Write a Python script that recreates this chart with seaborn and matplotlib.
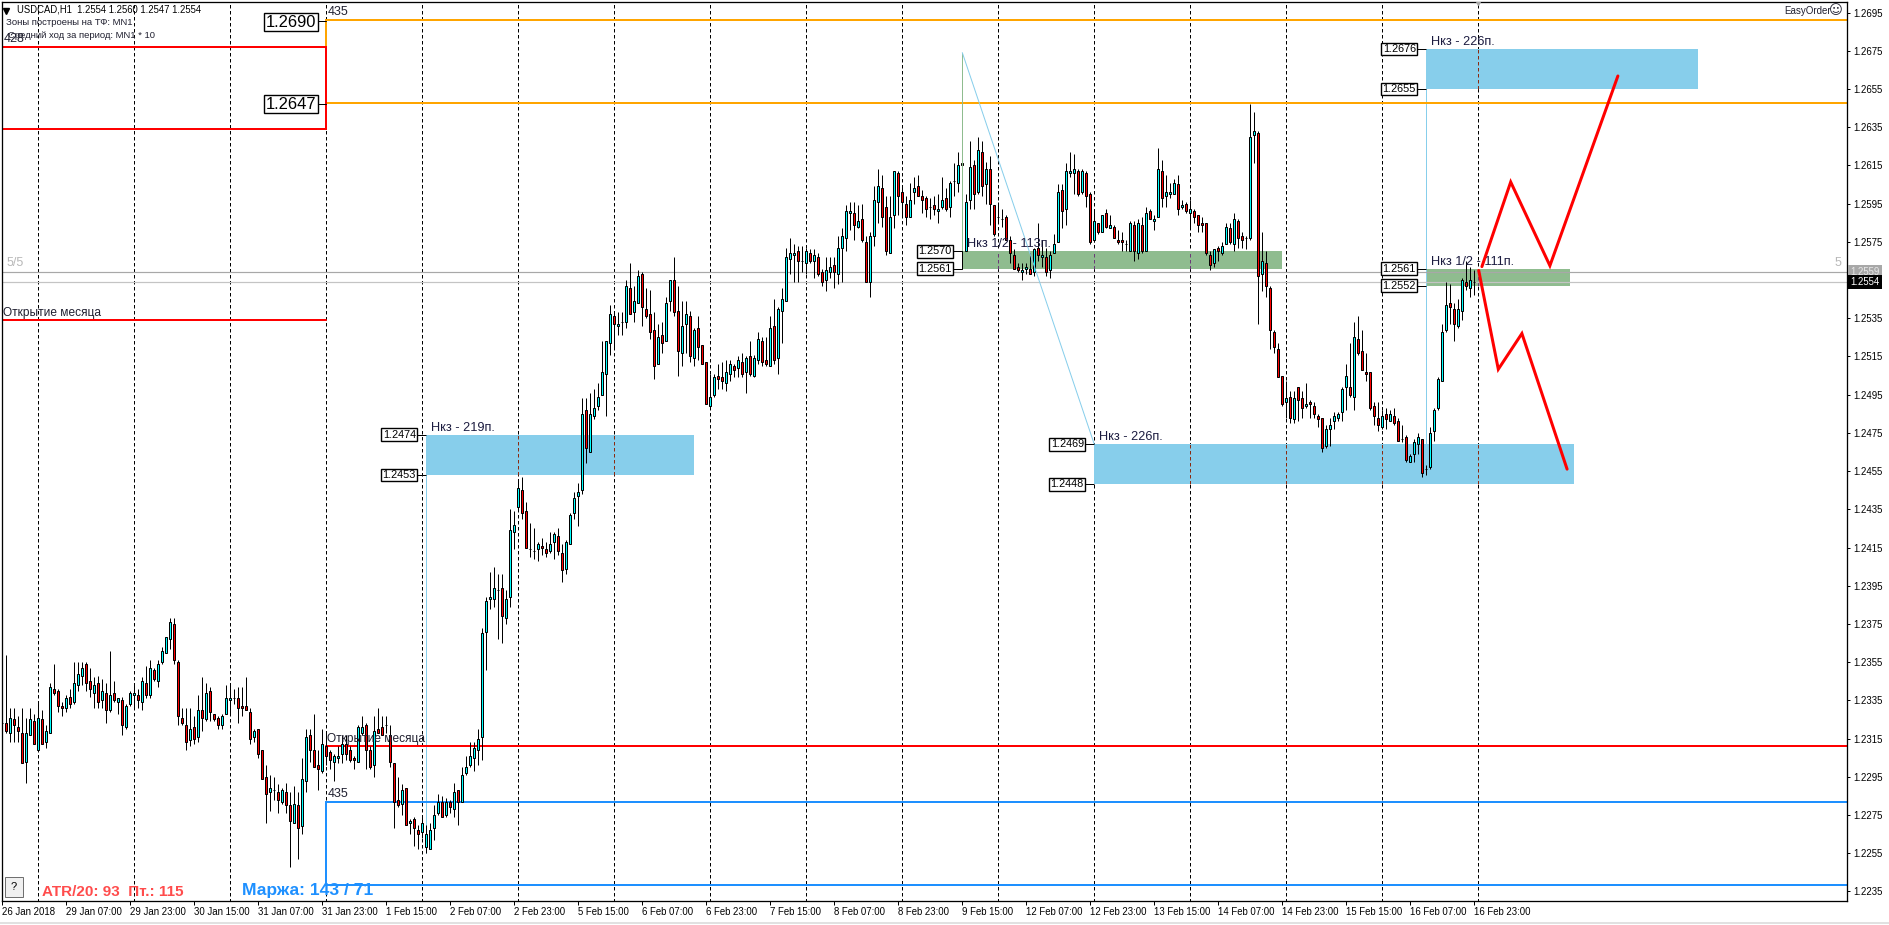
import matplotlib
matplotlib.use('Agg')
import matplotlib.pyplot as plt
import numpy as np
import pandas as pd
import seaborn as sns
from matplotlib.lines import Line2D
from matplotlib.patches import Rectangle

opens = [
    1.2323, 1.2323, 1.2318, 1.2325, 1.2321, 1.2318, 1.2303, 1.2317, 1.2324, 1.2309,
    1.2325, 1.2313, 1.2318, 1.2341, 1.2340, 1.2332, 1.2331, 1.2337, 1.2334, 1.2343,
    1.2348, 1.2354, 1.2345, 1.2339, 1.2344, 1.2335, 1.2339, 1.2330, 1.2339, 1.2334,
    1.2335, 1.2321, 1.2333, 1.2338, 1.2338, 1.2334, 1.2344, 1.2338, 1.2351, 1.2345,
    1.2355, 1.2360, 1.2367, 1.2375, 1.2355, 1.2326, 1.2322, 1.2314, 1.2321, 1.2316,
    1.2330, 1.2325, 1.2340, 1.2328, 1.2326, 1.2322, 1.2328, 1.2335, 1.2336, 1.2336,
    1.2332, 1.2332, 1.2329, 1.2316, 1.2320, 1.2309, 1.2295, 1.2287, 1.2288, 1.2287,
    1.2282, 1.2287, 1.2280, 1.2271, 1.2280, 1.2269, 1.2293, 1.2317, 1.2309, 1.2301,
    1.2298, 1.2311, 1.2308, 1.2303, 1.2305, 1.2307, 1.2312, 1.2309, 1.2305, 1.2303,
    1.2318, 1.2322, 1.2309, 1.2301, 1.2320, 1.2321, 1.2322, 1.2317, 1.2302, 1.2283,
    1.2281, 1.2289, 1.2271, 1.2273, 1.2267, 1.2266, 1.2258, 1.2257, 1.2268, 1.2276,
    1.2282, 1.2275, 1.2282, 1.2278, 1.2288, 1.2282, 1.2297, 1.2301, 1.2305, 1.2309,
    1.2316, 1.2371, 1.2388, 1.2388, 1.2393, 1.2394, 1.2378, 1.2389, 1.2423, 1.2436,
    1.2445, 1.2434, 1.2414, 1.2413, 1.2414, 1.2416, 1.2414, 1.2413, 1.2418, 1.2421,
    1.2412, 1.2404, 1.2417, 1.2433, 1.2442, 1.2445, 1.2487, 1.2465, 1.2484, 1.2489,
    1.2495, 1.2506, 1.2522, 1.2536, 1.2531, 1.2533, 1.2533, 1.2551, 1.2538, 1.2543,
    1.2558, 1.2540, 1.2537, 1.2529, 1.2511, 1.2526, 1.2523, 1.2544, 1.2555, 1.2539,
    1.2517, 1.2532, 1.2536, 1.2514, 1.2530, 1.2521, 1.2512, 1.2489, 1.2495, 1.2505,
    1.2504, 1.2501, 1.2506, 1.2510, 1.2509, 1.2512, 1.2507, 1.2515, 1.2505, 1.2513,
    1.2523, 1.2513, 1.2510, 1.2531, 1.2514, 1.2539, 1.2544, 1.2566, 1.2568, 1.2570,
    1.2565, 1.2564, 1.2569, 1.2565, 1.2567, 1.2559, 1.2555, 1.2559, 1.2563, 1.2558,
    1.2572, 1.2577, 1.2590, 1.2590, 1.2583, 1.2587, 1.2575, 1.2554, 1.2578, 1.2596,
    1.2603, 1.2593, 1.2569, 1.2589, 1.2611, 1.2601, 1.2595, 1.2588, 1.2601, 1.2604,
    1.2599, 1.2598, 1.2593, 1.2594, 1.2591, 1.2593, 1.2598, 1.2593, 1.2607, 1.2606,
    1.2616, 1.2570, 1.2597, 1.2615, 1.2601, 1.2622, 1.2605, 1.2613, 1.2594, 1.2588,
    1.2587, 1.2588, 1.2576, 1.2568, 1.2562, 1.2559, 1.2561, 1.2561, 1.2559, 1.2572,
    1.2567, 1.2567, 1.2560, 1.2569, 1.2575, 1.2602, 1.2592, 1.2611, 1.2611, 1.2612,
    1.2601, 1.2611, 1.2600, 1.2576, 1.2585, 1.2580, 1.2590, 1.2582, 1.2583, 1.2576,
    1.2576, 1.2574, 1.2570, 1.2584, 1.2569, 1.2584, 1.2570, 1.2591, 1.2586, 1.2588,
    1.2612, 1.2599, 1.2600, 1.2600, 1.2605, 1.2593, 1.2595, 1.2590, 1.2591, 1.2589,
    1.2585, 1.2585, 1.2568, 1.2564, 1.2572, 1.2569, 1.2574, 1.2582, 1.2574, 1.2586,
    1.2578, 1.2577, 1.2577, 1.2631, 1.2632, 1.2558, 1.2564, 1.2551, 1.2528, 1.2519,
    1.2505, 1.2491, 1.2494, 1.2482, 1.2499, 1.2493, 1.2489, 1.2491, 1.2489, 1.2484,
    1.2483, 1.2468, 1.2477, 1.2481, 1.2483, 1.2486, 1.2499, 1.2499, 1.2494, 1.2524,
    1.2518, 1.2507, 1.2507, 1.2489, 1.2483, 1.2478, 1.2485, 1.2481, 1.2484, 1.2481,
    1.2472, 1.2473, 1.2460, 1.2464, 1.2469, 1.2472, 1.2456, 1.2457, 1.2476, 1.2488,
    1.2502, 1.2529, 1.2543, 1.2540, 1.2531, 1.2539, 1.2554, 1.2551, 1.2554,
]
highs = [
    1.2337, 1.2359, 1.2331, 1.2331, 1.2327, 1.2331, 1.2326, 1.2331, 1.2328, 1.2334,
    1.2330, 1.2322, 1.2344, 1.2354, 1.2341, 1.2334, 1.2338, 1.2341, 1.2355, 1.2355,
    1.2355, 1.2355, 1.2352, 1.2347, 1.2348, 1.2346, 1.2344, 1.2361, 1.2345, 1.2336,
    1.2337, 1.2333, 1.2340, 1.2343, 1.2341, 1.2347, 1.2353, 1.2356, 1.2352, 1.2356,
    1.2363, 1.2368, 1.2378, 1.2378, 1.2356, 1.2331, 1.2331, 1.2331, 1.2327, 1.2338,
    1.2347, 1.2344, 1.2342, 1.2328, 1.2327, 1.2328, 1.2343, 1.2343, 1.2341, 1.2342,
    1.2342, 1.2347, 1.2331, 1.2320, 1.2320, 1.2309, 1.2301, 1.2296, 1.2295, 1.2291,
    1.2289, 1.2292, 1.2287, 1.2290, 1.2287, 1.2305, 1.2320, 1.2320, 1.2328, 1.2309,
    1.2320, 1.2319, 1.2309, 1.2307, 1.2311, 1.2317, 1.2317, 1.2311, 1.2306, 1.2322,
    1.2327, 1.2323, 1.2311, 1.2327, 1.2331, 1.2327, 1.2327, 1.2322, 1.2302, 1.2295,
    1.2291, 1.2289, 1.2273, 1.2274, 1.2270, 1.2274, 1.2270, 1.2271, 1.2280, 1.2286,
    1.2285, 1.2284, 1.2283, 1.2292, 1.2288, 1.2300, 1.2306, 1.2313, 1.2313, 1.2320,
    1.2373, 1.2389, 1.2402, 1.2405, 1.2401, 1.2401, 1.2393, 1.2435, 1.2434, 1.2450,
    1.2452, 1.2439, 1.2428, 1.2425, 1.2418, 1.2420, 1.2418, 1.2423, 1.2423, 1.2425,
    1.2417, 1.2419, 1.2433, 1.2444, 1.2449, 1.2493, 1.2493, 1.2496, 1.2498, 1.2501,
    1.2523, 1.2523, 1.2542, 1.2538, 1.2538, 1.2538, 1.2555, 1.2564, 1.2552, 1.2560,
    1.2559, 1.2551, 1.2550, 1.2538, 1.2532, 1.2533, 1.2546, 1.2555, 1.2567, 1.2552,
    1.2544, 1.2544, 1.2539, 1.2530, 1.2536, 1.2521, 1.2512, 1.2506, 1.2506, 1.2511,
    1.2512, 1.2513, 1.2513, 1.2511, 1.2515, 1.2517, 1.2515, 1.2523, 1.2516, 1.2528,
    1.2525, 1.2525, 1.2536, 1.2545, 1.2541, 1.2551, 1.2572, 1.2577, 1.2574, 1.2573,
    1.2573, 1.2572, 1.2571, 1.2571, 1.2569, 1.2561, 1.2567, 1.2567, 1.2567, 1.2578,
    1.2582, 1.2594, 1.2596, 1.2596, 1.2594, 1.2595, 1.2578, 1.2580, 1.2604, 1.2613,
    1.2610, 1.2599, 1.2599, 1.2612, 1.2612, 1.2604, 1.2599, 1.2606, 1.2609, 1.2610,
    1.2602, 1.2599, 1.2598, 1.2599, 1.2600, 1.2609, 1.2603, 1.2607, 1.2616, 1.2622,
    1.2622, 1.2600, 1.2628, 1.2618, 1.2630, 1.2628, 1.2617, 1.2620, 1.2594, 1.2596,
    1.2592, 1.2589, 1.2578, 1.2571, 1.2564, 1.2564, 1.2564, 1.2569, 1.2572, 1.2585,
    1.2576, 1.2572, 1.2570, 1.2579, 1.2605, 1.2605, 1.2616, 1.2622, 1.2621, 1.2613,
    1.2613, 1.2612, 1.2601, 1.2592, 1.2585, 1.2589, 1.2592, 1.2589, 1.2584, 1.2581,
    1.2580, 1.2576, 1.2586, 1.2586, 1.2587, 1.2588, 1.2593, 1.2592, 1.2589, 1.2624,
    1.2618, 1.2610, 1.2606, 1.2608, 1.2610, 1.2597, 1.2596, 1.2597, 1.2592, 1.2589,
    1.2588, 1.2585, 1.2570, 1.2571, 1.2573, 1.2575, 1.2585, 1.2585, 1.2590, 1.2587,
    1.2580, 1.2578, 1.2647, 1.2643, 1.2633, 1.2580, 1.2570, 1.2552, 1.2529, 1.2522,
    1.2505, 1.2502, 1.2497, 1.2497, 1.2499, 1.2497, 1.2501, 1.2492, 1.2491, 1.2485,
    1.2483, 1.2479, 1.2483, 1.2486, 1.2486, 1.2499, 1.2511, 1.2522, 1.2533, 1.2536,
    1.2529, 1.2517, 1.2507, 1.2491, 1.2491, 1.2487, 1.2488, 1.2487, 1.2488, 1.2483,
    1.2479, 1.2474, 1.2464, 1.2472, 1.2475, 1.2472, 1.2458, 1.2478, 1.2488, 1.2504,
    1.2532, 1.2554, 1.2553, 1.2543, 1.2545, 1.2556, 1.2565, 1.2562, 1.2560,
]
lows = [
    1.2299, 1.2318, 1.2313, 1.2313, 1.2313, 1.2302, 1.2292, 1.2317, 1.2312, 1.2309,
    1.2312, 1.2310, 1.2318, 1.2338, 1.2329, 1.2327, 1.2329, 1.2331, 1.2333, 1.2340,
    1.2343, 1.2340, 1.2337, 1.2331, 1.2331, 1.2331, 1.2323, 1.2329, 1.2334, 1.2328,
    1.2317, 1.2320, 1.2332, 1.2331, 1.2331, 1.2330, 1.2336, 1.2336, 1.2345, 1.2342,
    1.2354, 1.2360, 1.2362, 1.2354, 1.2322, 1.2322, 1.2309, 1.2311, 1.2312, 1.2313,
    1.2319, 1.2324, 1.2324, 1.2324, 1.2320, 1.2320, 1.2328, 1.2328, 1.2333, 1.2323,
    1.2327, 1.2330, 1.2312, 1.2313, 1.2305, 1.2294, 1.2271, 1.2277, 1.2283, 1.2276,
    1.2281, 1.2276, 1.2248, 1.2271, 1.2252, 1.2265, 1.2287, 1.2303, 1.2300, 1.2288,
    1.2297, 1.2301, 1.2299, 1.2293, 1.2302, 1.2302, 1.2304, 1.2303, 1.2299, 1.2303,
    1.2317, 1.2299, 1.2299, 1.2295, 1.2318, 1.2317, 1.2318, 1.2300, 1.2268, 1.2279,
    1.2275, 1.2270, 1.2265, 1.2259, 1.2257, 1.2263, 1.2255, 1.2257, 1.2262, 1.2275,
    1.2274, 1.2274, 1.2276, 1.2274, 1.2270, 1.2282, 1.2296, 1.2300, 1.2298, 1.2301,
    1.2304, 1.2351, 1.2383, 1.2384, 1.2367, 1.2365, 1.2375, 1.2384, 1.2414, 1.2435,
    1.2430, 1.2415, 1.2410, 1.2409, 1.2408, 1.2411, 1.2410, 1.2412, 1.2409, 1.2411,
    1.2397, 1.2401, 1.2417, 1.2430, 1.2426, 1.2443, 1.2459, 1.2465, 1.2482, 1.2487,
    1.2495, 1.2484, 1.2516, 1.2520, 1.2526, 1.2526, 1.2530, 1.2537, 1.2533, 1.2543,
    1.2531, 1.2535, 1.2524, 1.2503, 1.2511, 1.2517, 1.2523, 1.2539, 1.2536, 1.2505,
    1.2510, 1.2517, 1.2512, 1.2510, 1.2513, 1.2511, 1.2490, 1.2489, 1.2494, 1.2498,
    1.2498, 1.2497, 1.2502, 1.2504, 1.2504, 1.2504, 1.2496, 1.2505, 1.2504, 1.2511,
    1.2510, 1.2510, 1.2510, 1.2511, 1.2506, 1.2522, 1.2544, 1.2558, 1.2554, 1.2554,
    1.2559, 1.2558, 1.2564, 1.2556, 1.2557, 1.2552, 1.2549, 1.2556, 1.2551, 1.2553,
    1.2554, 1.2570, 1.2581, 1.2576, 1.2582, 1.2575, 1.2554, 1.2546, 1.2573, 1.2585,
    1.2583, 1.2568, 1.2569, 1.2582, 1.2589, 1.2589, 1.2584, 1.2588, 1.2595, 1.2599,
    1.2590, 1.2588, 1.2587, 1.2589, 1.2585, 1.2592, 1.2591, 1.2588, 1.2599, 1.2601,
    1.2570, 1.2570, 1.2592, 1.2592, 1.2600, 1.2599, 1.2595, 1.2584, 1.2578, 1.2586,
    1.2583, 1.2576, 1.2564, 1.2561, 1.2559, 1.2555, 1.2558, 1.2558, 1.2557, 1.2565,
    1.2562, 1.2557, 1.2556, 1.2569, 1.2575, 1.2582, 1.2584, 1.2609, 1.2600, 1.2599,
    1.2600, 1.2593, 1.2574, 1.2575, 1.2579, 1.2580, 1.2582, 1.2582, 1.2577, 1.2574,
    1.2570, 1.2570, 1.2570, 1.2565, 1.2566, 1.2569, 1.2570, 1.2587, 1.2581, 1.2588,
    1.2593, 1.2593, 1.2598, 1.2600, 1.2589, 1.2592, 1.2590, 1.2583, 1.2585, 1.2580,
    1.2580, 1.2568, 1.2560, 1.2562, 1.2565, 1.2568, 1.2574, 1.2574, 1.2570, 1.2572,
    1.2572, 1.2571, 1.2576, 1.2616, 1.2532, 1.2549, 1.2546, 1.2519, 1.2517, 1.2504,
    1.2489, 1.2483, 1.2480, 1.2480, 1.2481, 1.2483, 1.2488, 1.2483, 1.2483, 1.2478,
    1.2465, 1.2467, 1.2468, 1.2477, 1.2481, 1.2481, 1.2487, 1.2494, 1.2487, 1.2516,
    1.2508, 1.2502, 1.2487, 1.2479, 1.2476, 1.2477, 1.2477, 1.2481, 1.2479, 1.2471,
    1.2470, 1.2460, 1.2460, 1.2460, 1.2464, 1.2452, 1.2453, 1.2456, 1.2471, 1.2487,
    1.2502, 1.2528, 1.2532, 1.2523, 1.2530, 1.2534, 1.2550, 1.2546, 1.2547,
]
closes = [
    1.2323, 1.2319, 1.2326, 1.2322, 1.2319, 1.2302, 1.2318, 1.2325, 1.2312, 1.2326,
    1.2312, 1.2319, 1.2342, 1.2339, 1.2332, 1.2331, 1.2336, 1.2333, 1.2344, 1.2349,
    1.2352, 1.2344, 1.2341, 1.2343, 1.2334, 1.2340, 1.2330, 1.2338, 1.2335, 1.2336,
    1.2322, 1.2332, 1.2339, 1.2339, 1.2335, 1.2345, 1.2338, 1.2352, 1.2346, 1.2354,
    1.2361, 1.2368, 1.2376, 1.2356, 1.2327, 1.2323, 1.2313, 1.2320, 1.2315, 1.2330,
    1.2326, 1.2339, 1.2329, 1.2325, 1.2322, 1.2327, 1.2336, 1.2336, 1.2336, 1.2331,
    1.2331, 1.2330, 1.2315, 1.2319, 1.2307, 1.2294, 1.2286, 1.2289, 1.2288, 1.2283,
    1.2288, 1.2280, 1.2272, 1.2281, 1.2268, 1.2294, 1.2316, 1.2309, 1.2300, 1.2299,
    1.2312, 1.2306, 1.2304, 1.2306, 1.2306, 1.2312, 1.2307, 1.2304, 1.2304, 1.2321,
    1.2321, 1.2309, 1.2300, 1.2319, 1.2318, 1.2317, 1.2322, 1.2303, 1.2282, 1.2280,
    1.2288, 1.2270, 1.2272, 1.2268, 1.2265, 1.2271, 1.2265, 1.2267, 1.2275, 1.2282,
    1.2274, 1.2282, 1.2279, 1.2287, 1.2282, 1.2296, 1.2300, 1.2306, 1.2310, 1.2315,
    1.2370, 1.2387, 1.2389, 1.2394, 1.2393, 1.2379, 1.2388, 1.2424, 1.2427, 1.2446,
    1.2433, 1.2415, 1.2414, 1.2413, 1.2417, 1.2415, 1.2412, 1.2417, 1.2422, 1.2413,
    1.2403, 1.2418, 1.2432, 1.2441, 1.2444, 1.2485, 1.2467, 1.2485, 1.2488, 1.2494,
    1.2507, 1.2523, 1.2537, 1.2532, 1.2532, 1.2533, 1.2552, 1.2537, 1.2544, 1.2557,
    1.2541, 1.2536, 1.2528, 1.2510, 1.2525, 1.2522, 1.2543, 1.2555, 1.2538, 1.2518,
    1.2531, 1.2537, 1.2515, 1.2529, 1.2520, 1.2511, 1.2490, 1.2494, 1.2504, 1.2503,
    1.2502, 1.2507, 1.2511, 1.2508, 1.2513, 1.2506, 1.2514, 1.2506, 1.2514, 1.2524,
    1.2512, 1.2511, 1.2530, 1.2513, 1.2540, 1.2545, 1.2567, 1.2569, 1.2569, 1.2565,
    1.2565, 1.2570, 1.2565, 1.2568, 1.2558, 1.2554, 1.2560, 1.2562, 1.2559, 1.2572,
    1.2578, 1.2591, 1.2591, 1.2584, 1.2586, 1.2576, 1.2554, 1.2578, 1.2597, 1.2604,
    1.2588, 1.2570, 1.2588, 1.2612, 1.2599, 1.2596, 1.2588, 1.2597, 1.2603, 1.2599,
    1.2597, 1.2592, 1.2593, 1.2592, 1.2592, 1.2597, 1.2592, 1.2606, 1.2607, 1.2615,
    1.2615, 1.2596, 1.2614, 1.2600, 1.2623, 1.2604, 1.2613, 1.2595, 1.2579, 1.2588,
    1.2587, 1.2576, 1.2569, 1.2561, 1.2560, 1.2560, 1.2562, 1.2558, 1.2571, 1.2568,
    1.2568, 1.2559, 1.2568, 1.2574, 1.2601, 1.2591, 1.2612, 1.2612, 1.2613, 1.2600,
    1.2612, 1.2599, 1.2575, 1.2586, 1.2580, 1.2589, 1.2583, 1.2584, 1.2577, 1.2575,
    1.2575, 1.2574, 1.2585, 1.2570, 1.2585, 1.2570, 1.2590, 1.2587, 1.2587, 1.2613,
    1.2598, 1.2601, 1.2601, 1.2606, 1.2592, 1.2594, 1.2591, 1.2592, 1.2588, 1.2584,
    1.2584, 1.2569, 1.2563, 1.2571, 1.2570, 1.2573, 1.2583, 1.2575, 1.2587, 1.2577,
    1.2576, 1.2577, 1.2630, 1.2633, 1.2557, 1.2565, 1.2552, 1.2529, 1.2520, 1.2504,
    1.2490, 1.2493, 1.2483, 1.2493, 1.2492, 1.2488, 1.2490, 1.2490, 1.2485, 1.2482,
    1.2467, 1.2477, 1.2479, 1.2484, 1.2485, 1.2498, 1.2505, 1.2495, 1.2525, 1.2517,
    1.2508, 1.2506, 1.2488, 1.2484, 1.2479, 1.2484, 1.2482, 1.2485, 1.2480, 1.2471,
    1.2472, 1.2461, 1.2463, 1.2470, 1.2473, 1.2454, 1.2456, 1.2475, 1.2487, 1.2503,
    1.2528, 1.2542, 1.2541, 1.2532, 1.2540, 1.2555, 1.2552, 1.2555, 1.2554,
]

time_labels = ['26 Jan 2018', '29 Jan 07:00', '29 Jan 23:00', '30 Jan 15:00', '31 Jan 07:00',
               '31 Jan 23:00', '1 Feb 15:00', '2 Feb 07:00', '2 Feb 23:00', '5 Feb 15:00',
               '6 Feb 07:00', '6 Feb 23:00', '7 Feb 15:00', '8 Feb 07:00', '8 Feb 23:00',
               '9 Feb 15:00', '12 Feb 07:00', '12 Feb 23:00', '13 Feb 15:00', '14 Feb 07:00',
               '14 Feb 23:00', '15 Feb 15:00', '16 Feb 07:00', '16 Feb 23:00']
# the 1.2555 tick sits under the two price tags, so it has no label of its own
price_ticks = [1.2695, 1.2675, 1.2655, 1.2635, 1.2615, 1.2595, 1.2575,
               1.2535, 1.2515, 1.2495, 1.2475, 1.2455, 1.2435, 1.2415, 1.2395,
               1.2375, 1.2355, 1.2335, 1.2315, 1.2295, 1.2275, 1.2255, 1.2235]

# (start bar, end bar, upper price, lower price, label)
blue_zones = [(106, 173, 1.2474, 1.2453, 'Нкз - 219п.'),
              (273, 393, 1.2469, 1.2448, 'Нкз - 226п.'),
              (356, 424, 1.2676, 1.2655, 'Нкз - 226п.')]
green_zones = [(240, 320, 1.2570, 1.2561, 'Нкз 1/2 - 113п.'),
               (356, 392, 1.2561, 1.2552, 'Нкз 1/2 - 111п.')]

month_bar = 81
red_box = (1.2677, 1.2634)
orange_levels = (1.2691, 1.26475)
blue_box = (1.2282, 1.22385)
open_prev = 1.2534
open_cur = 1.2311
ask_price = 1.2559
bid_price = 1.2554

up_path_bars = [369.9, 377.1, 386.9, 403.9]
up_path_prices = [1.2562, 1.26063, 1.25625, 1.26618]
down_path_bars = [369.1, 374.0, 379.9, 391.2]
down_path_prices = [1.2560, 1.25083, 1.2527, 1.2456]

W, H = 1889, 925
AX_L, AX_T, AX_R, AX_B = 2, 2, 1847, 901
PX = 0.72
GRID_BARS = np.arange(9, 370, 24)
GRID_DASH = (0, (3.5, 2.5))


def main():
    sns.set_theme(style='white')
    plt.rcParams['font.family'] = ['Liberation Sans', 'DejaVu Sans']

    fig = plt.figure(figsize=(W / 100, H / 100), dpi=100)
    ax = fig.add_axes([AX_L / W, 1 - AX_B / H, (AX_R - AX_L) / W, (AX_B - AX_T) / H])

    ax.vlines(GRID_BARS, 1.2, 1.3, color='black', lw=PX, linestyles=GRID_DASH, zorder=1)
    draw_zones(ax)
    draw_levels(ax)
    draw_candles(ax)
    draw_paths(ax)
    draw_axes(ax)
    draw_overlay(fig, ax)

    fig.add_artist(Line2D([0, 1], [1 - 922.5 / H] * 2, color='#d8d8d8', lw=1.5 * PX))
    fig.savefig('out.png', dpi=100, facecolor='white')
    plt.close()


def draw_candles(ax):
    df = pd.DataFrame({'bar': np.arange(len(opens)), 'open': opens, 'high': highs, 'low': lows, 'close': closes})
    df['base'] = df[['open', 'close']].min(axis=1)
    df['body'] = (df['close'] - df['open']).abs()

    ax.vlines(df['bar'], df['low'], df['high'], color='black', lw=PX, zorder=3)

    for subset, colour in [(df[df['close'] >= df['open']], '#00FFFF'), (df[df['close'] < df['open']], '#FF0000')]:
        sns.barplot(data=subset, x='bar', y='body', bottom=subset['base'].values, native_scale=True, width=0.5,
                    color=colour, saturation=1, errorbar=None, edgecolor='black', linewidth=PX, zorder=4, ax=ax)


def level_label(ax, bar, price, text, size=7.8, reach=2.6, pad=0.12):
    ax.plot([bar - reach, bar], [price, price], color='black', lw=PX, zorder=6, solid_capstyle='butt')
    ax.text(bar - reach, price, text, ha='right', va='center', fontsize=size, color='black', zorder=7,
            bbox=dict(boxstyle='square,pad=%s' % pad, fc='white', ec='black', lw=1.0))


def draw_zones(ax):
    for zones, colour, dash_colour in [(blue_zones, '#87CEEB', '#8B2A10'), (green_zones, '#8FBC8F', '#6B3A78')]:
        for start, end, top, bottom, text in zones:
            ax.add_patch(Rectangle((start, bottom), end - start, top - bottom, fc=colour, ec='none', zorder=1.5))
            inside = GRID_BARS[(GRID_BARS > start) & (GRID_BARS < end)]
            ax.vlines(inside, bottom, top, color=dash_colour, lw=PX, linestyles=GRID_DASH, zorder=1.6)
            level_label(ax, start, top, '%.4f' % top)
            level_label(ax, start, bottom, '%.4f' % bottom)
            ax.text(start + 1.2, top + 0.00005, text, fontsize=9.2, color='#1c1c40', va='bottom', zorder=7)

    # thin construction lines of the zones
    ax.plot([106, 106], [1.2255, 1.2453], color='#87CEEB', lw=PX, zorder=2)
    ax.plot([356, 356], [1.2469, 1.2655], color='#87CEEB', lw=PX, zorder=2)
    ax.plot([240, 240], [1.2570, 1.2674], color='#8FBC8F', lw=PX, zorder=5)
    ax.plot([240, 273], [1.2674, 1.2469], color='#87CEEB', lw=PX, zorder=5)
    ax.plot([240, 240], [1.2561, 1.2570], color='black', lw=PX, zorder=5)


def draw_levels(ax):
    right = 470
    ax.plot([0, month_bar, month_bar, 0], [red_box[0], red_box[0], red_box[1], red_box[1]], color='#FF0000',
            lw=2 * PX, zorder=2.5, solid_joinstyle='miter')
    ax.plot([right, month_bar, month_bar, right], [orange_levels[0], orange_levels[0], orange_levels[1], orange_levels[1]],
            color='#FFA500', lw=2 * PX, zorder=2.2, solid_joinstyle='miter')
    ax.plot([right, month_bar, month_bar, right], [blue_box[0], blue_box[0], blue_box[1], blue_box[1]],
            color='#1E90FF', lw=2 * PX, zorder=2.5, solid_joinstyle='miter')
    ax.plot([0, month_bar], [open_prev, open_prev], color='#FF0000', lw=2 * PX, zorder=2.5)
    ax.plot([month_bar, right], [open_cur, open_cur], color='#FF0000', lw=2 * PX, zorder=2.5)
    ax.axhline(ask_price, color='#a8a8a8', lw=1.2 * PX, zorder=2.4)
    ax.axhline(bid_price, color='#c4c4c4', lw=1.2 * PX, zorder=2.4)

    level_label(ax, month_bar - 2.5, 1.2690, '1.2690', size=11.9, reach=0, pad=0.1)
    level_label(ax, month_bar - 2.5, 1.2647, '1.2647', size=11.9, reach=0, pad=0.1)
    ax.plot([month_bar - 2.5, month_bar], [1.26905, 1.26905], color='black', lw=PX, zorder=6)
    ax.plot([month_bar - 2.5, month_bar], [1.2647, 1.2647], color='black', lw=PX, zorder=6)

    ax.text(0.2, open_prev + 0.00005, 'Открытие месяца', fontsize=8.6, color='#202030', va='bottom', zorder=7)
    ax.text(month_bar + 0.2, open_cur + 0.00005, 'Открытие месяца', fontsize=8.6, color='#202030', va='bottom', zorder=7)
    ax.text(month_bar + 0.3, orange_levels[0] + 0.0001, '435', fontsize=9, color='#202030', va='bottom', zorder=7)
    ax.text(month_bar + 0.3, blue_box[0] + 0.0001, '435', fontsize=9, color='#202030', va='bottom', zorder=7)
    ax.text(0.3, red_box[0] + 0.0001, '428', fontsize=9, color='#202030', va='bottom', zorder=7)


def draw_paths(ax):
    for bars, prices in [(up_path_bars, up_path_prices), (down_path_bars, down_path_prices)]:
        sns.lineplot(x=bars, y=prices, sort=False, errorbar=None, color='#FF0000', lw=3 * PX, zorder=8,
                     solid_joinstyle='miter', ax=ax)


def draw_axes(ax):
    ax.set_xlim((AX_L - 2.3) / 4, (AX_R - 2.3) / 4)
    ax.set_ylim(1.2230, 1.27005)
    ax.set_xlabel('')
    ax.set_ylabel('')

    ax.yaxis.tick_right()
    ax.set_yticks(price_ticks)
    ax.set_yticklabels(['%.4f' % p for p in price_ticks], fontsize=6.9, color='black')
    ax.set_xticks(np.arange(len(time_labels)) * 16)
    ax.set_xticklabels(time_labels, fontsize=6.9, color='black', ha='left')
    ax.tick_params(axis='x', bottom=True, length=3, width=PX, pad=1.5, color='black')
    ax.tick_params(axis='y', right=True, left=False, length=2.2, width=PX, pad=2.2, color='black')
    for spine in ax.spines.values():
        spine.set_color('black')
        spine.set_linewidth(1.3 * PX)
        spine.set_visible(True)


def draw_overlay(fig, ax):
    def fx(x):
        return x / W

    def fy(y):
        return 1 - y / H

    for price, text, face, txt in [(ask_price, '1.2559', '#a8a8a8', '#e8e8e8'), (bid_price, '1.2554', 'black', 'white')]:
        ax.text(1.0018, price, text, transform=ax.get_yaxis_transform(), fontsize=6.9, color=txt, va='center',
                ha='left', zorder=9, clip_on=False, bbox=dict(boxstyle='square,pad=0.22', fc=face, ec='none'))

    fig.text(fx(7), fy(263), '5/5', fontsize=9, color='#b8b8b8', va='center')
    fig.text(fx(1838), fy(263), '5', fontsize=9, color='#b8b8b8', va='center', ha='center')

    fig.text(fx(17), fy(9.5), 'USDCAD,H1  1.2554 1.2560 1.2547 1.2554', fontsize=6.85, color='black', va='center')
    fig.text(fx(6), fy(22.5), 'Зоны построены на ТФ: MN1', fontsize=6.8, color='#202030', va='center')
    fig.text(fx(8), fy(35), 'Средний ход за период: MN1 * 10', fontsize=6.8, color='#202030', va='center')
    ax.plot(0.0022, 0.9895, marker='v', ms=4.5, color='black', transform=ax.transAxes, zorder=9, clip_on=False)
    ax.plot(369, 1.0, marker='v', ms=5, color='#a8a8a8', transform=ax.get_xaxis_transform(), zorder=9, clip_on=True)

    fig.text(fx(1784), fy(11), 'EasyOrder', fontsize=7, color='#202030', va='center')
    fig.text(fx(1836), fy(11), '\u263A', fontsize=9.5, color='#202030', va='center', ha='center', family='DejaVu Sans')

    fig.add_artist(Rectangle((fx(5), fy(897)), 18 / W, 20 / H, fc='#f0f0f0', ec='#707070', lw=PX, zorder=9))
    fig.text(fx(14), fy(887), '?', fontsize=8, color='black', va='center', ha='center', zorder=10)
    fig.text(fx(42), fy(892), 'ATR/20: 93  Пт.: 115', fontsize=11, fontweight='bold', color='#FF4C4C', va='center', zorder=10)
    fig.text(fx(242), fy(891), 'Маржа: 143 / 71', fontsize=12.6, fontweight='bold', color='#1E90FF', va='center', zorder=10)


if __name__ == '__main__':
    main()
